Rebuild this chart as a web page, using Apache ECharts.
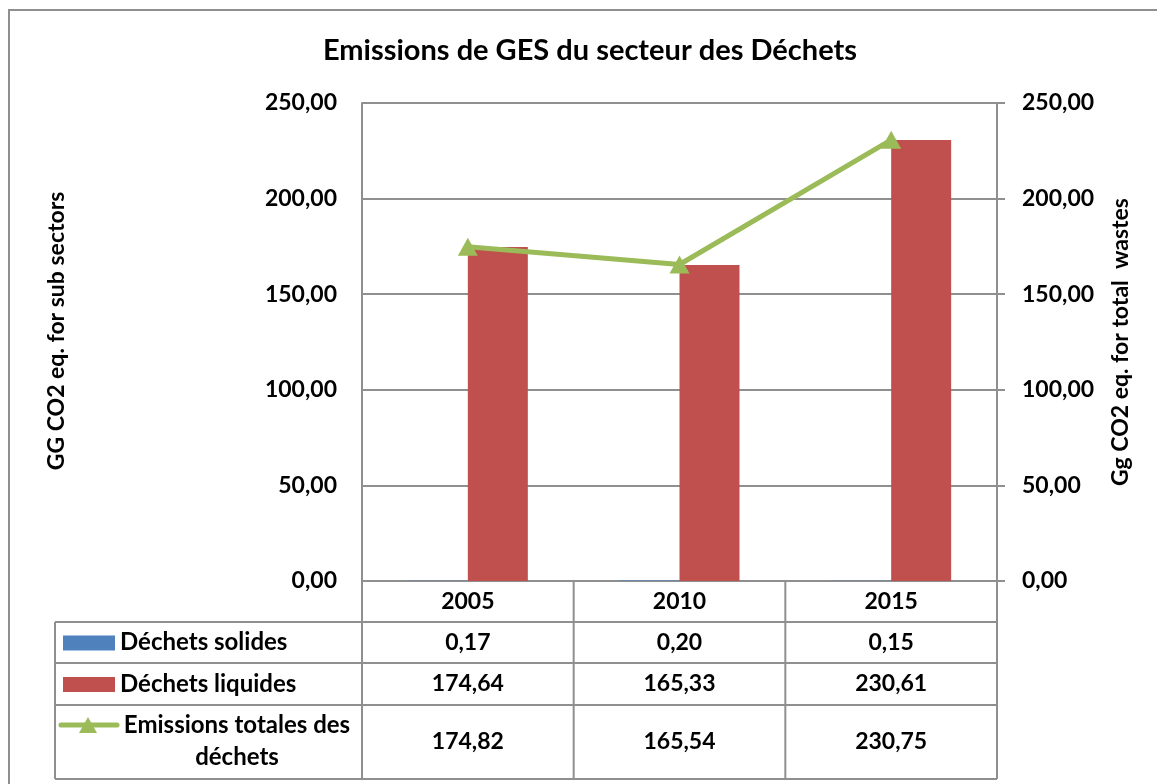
<!DOCTYPE html>
<html>
<head>
<meta charset="utf-8">
<script src="https://cdn.jsdelivr.net/npm/echarts@6/dist/echarts.min.js"></script>
<style>
  html, body { margin: 0; padding: 0; background: #fff; }
  #chart { width: 1157px; height: 784px; }
</style>
</head>
<body>
<div id="chart"></div>
<script>
// data
const years = ['2005', '2010', '2015']
const solides = [0.17, 0.20, 0.15]
const liquides = [174.64, 165.33, 230.61]
const totales = [174.82, 165.54, 230.75]
const seriesNames = ['Déchets solides', 'Déchets liquides', 'Emissions totales des\ndéchets']
const titleText = 'Emissions de GES du secteur des Déchets'
const leftAxisName = 'GG CO2 eq. for sub sectors'
const rightAxisName = 'Gg CO2 eq. for total  wastes'

const FONT = 'Lato, "Open Sans", sans-serif'
const GRID_COLOR = '#8f8f8f'
const BLUE = '#4f81bd'
const RED = '#c0504d'
const GREEN = '#9bbb59'

function fmt(v) {
  return v.toFixed(2).replace('.', ',')
}

const chart = echarts.init(document.getElementById('chart'))

const labelStyle = {
  color: '#000',
  fontFamily: FONT,
  fontWeight: 'bold',
  fontSize: 23,
  margin: 25,
  formatter: fmt
}

chart.setOption({
  animation: false,
  backgroundColor: '#fff',
  grid: { left: 362, right: 160, top: 103, bottom: 203, containLabel: false },
  xAxis: {
    type: 'category',
    data: years,
    axisLine: { show: true, lineStyle: { color: GRID_COLOR, width: 2 } },
    axisTick: { show: false },
    axisLabel: { show: false }
  },
  yAxis: [
    {
      type: 'value', min: 0, max: 250, interval: 50, position: 'left',
      axisLine: { show: true, lineStyle: { color: GRID_COLOR, width: 2 } },
      axisTick: { show: false },
      splitLine: { show: true, lineStyle: { color: GRID_COLOR, width: 2 } },
      axisLabel: labelStyle
    },
    {
      type: 'value', min: 0, max: 250, interval: 50, position: 'right',
      axisLine: { show: true, lineStyle: { color: GRID_COLOR, width: 2 } },
      axisTick: { show: true, length: 8, lineStyle: { color: GRID_COLOR, width: 2 } },
      splitLine: { show: false },
      axisLabel: labelStyle
    }
  ],
  series: [
    {
      name: seriesNames[0], type: 'bar', data: solides,
      barWidth: 60, barGap: '0%',
      itemStyle: { color: BLUE }
    },
    {
      name: seriesNames[1], type: 'bar', data: liquides,
      barWidth: 60, barGap: '0%',
      itemStyle: { color: RED }
    },
    {
      name: seriesNames[2], type: 'line', data: totales, yAxisIndex: 1,
      symbol: 'triangle', symbolSize: [20, 18],
      lineStyle: { color: GREEN, width: 5 },
      itemStyle: { color: GREEN },
      z: 5
    }
  ]
})

// data table under the plot, built from the same arrays
const xs = years.map((_, i) => chart.convertToPixel({ xAxisIndex: 0 }, i))
const band = xs[1] - xs[0]
const colBounds = [xs[0] - band / 2].concat(xs.map(x => x + band / 2))
const yZero = chart.convertToPixel({ yAxisIndex: 0 }, 0)
const tableLeft = 55
const rows = [yZero, 622, 663, 705, 779]
const textStyle = { fill: '#000', font: 'bold 23px ' + FONT, align: 'center', verticalAlign: 'middle' }
const nameFont = 'bold 24px ' + FONT
const lineStyle = { stroke: GRID_COLOR, lineWidth: 2 }

const g = []
// outer chart border
g.push({ type: 'rect', shape: { x: 9, y: 10, width: 1160, height: 800 }, style: { fill: null, stroke: GRID_COLOR, lineWidth: 2 }, silent: true })
// title
g.push({ type: 'text', x: 590, y: 51, style: Object.assign({}, textStyle, { text: titleText, font: 'bold 29px ' + FONT }) })
// axis names
g.push({ type: 'text', x: 57, y: 331, rotation: Math.PI / 2, style: Object.assign({}, textStyle, { text: leftAxisName, font: 'bold 23px ' + FONT }) })
g.push({ type: 'text', x: 1121, y: 342, rotation: Math.PI / 2, style: Object.assign({}, textStyle, { text: rightAxisName, font: 'bold 23px ' + FONT }) })

// table horizontal lines
rows.forEach((y, i) => {
  const x1 = i === 0 ? colBounds[0] : tableLeft
  g.push({ type: 'line', shape: { x1: x1, y1: y, x2: colBounds[3], y2: y }, style: lineStyle })
})
// vertical lines
colBounds.forEach(x => {
  g.push({ type: 'line', shape: { x1: x, y1: rows[0], x2: x, y2: rows[4] }, style: lineStyle })
})
g.push({ type: 'line', shape: { x1: tableLeft, y1: rows[1], x2: tableLeft, y2: rows[4] }, style: lineStyle })

// header years
years.forEach((yr, i) => {
  g.push({ type: 'text', x: xs[i], y: (rows[0] + rows[1]) / 2, style: Object.assign({}, textStyle, { text: yr }) })
})
// value rows
const tableData = [solides, liquides, totales]
tableData.forEach((arr, r) => {
  const cy = (rows[r + 1] + rows[r + 2]) / 2
  arr.forEach((v, i) => {
    g.push({ type: 'text', x: xs[i], y: cy, style: Object.assign({}, textStyle, { text: fmt(v) }) })
  })
})

// legend keys + names
const keyX = 63
const cy1 = (rows[1] + rows[2]) / 2
const cy2 = (rows[2] + rows[3]) / 2
g.push({ type: 'rect', shape: { x: keyX, y: cy1 - 7, width: 52, height: 15 }, style: { fill: BLUE } })
g.push({ type: 'text', x: 120, y: cy1, style: Object.assign({}, textStyle, { text: seriesNames[0], align: 'left', font: nameFont }) })
g.push({ type: 'rect', shape: { x: keyX, y: cy2 - 7, width: 52, height: 15 }, style: { fill: RED } })
g.push({ type: 'text', x: 120, y: cy2, style: Object.assign({}, textStyle, { text: seriesNames[1], align: 'left', font: nameFont }) })
const ly = 725
g.push({ type: 'line', shape: { x1: 61, y1: ly, x2: 117, y2: ly }, style: { stroke: GREEN, lineWidth: 5, lineCap: 'round' } })
g.push({ type: 'polygon', shape: { points: [[88, ly - 8], [79, ly + 8], [97, ly + 8]] }, style: { fill: GREEN } })
g.push({ type: 'text', x: 237, y: 741, style: Object.assign({}, textStyle, { text: seriesNames[2], lineHeight: 32, font: nameFont }) })

chart.setOption({ graphic: g })
</script>
</body>
</html>
